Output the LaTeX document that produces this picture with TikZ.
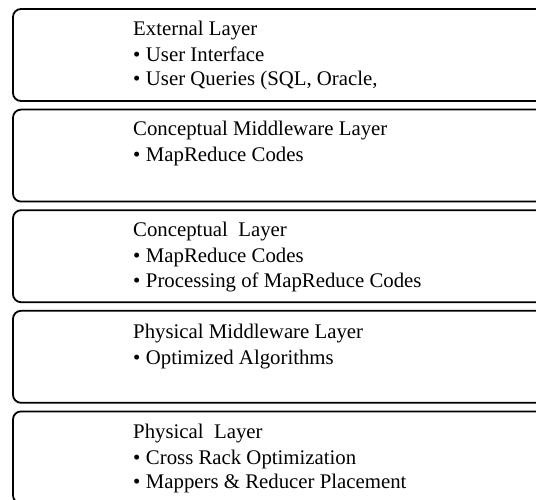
\documentclass[tikz,border=0pt]{standalone}
\usepackage{fontspec}
\setmainfont{Liberation Serif}
\usetikzlibrary{positioning}

\newcommand{\layeritem}{\textbullet\hspace{5.5pt}}

\tikzset{
	layerbox/.style={draw, line width=1.8pt, rounded corners=8pt, minimum width=560pt, minimum height=92pt, inner sep=0pt, outer sep=0pt},
	layertext/.style={align=left, inner sep=0pt, font=\fontsize{20.8}{24.5}\selectfont},
}

\begin{document}
\begin{tikzpicture}[x=1pt, y=-1pt]
			%%%%% START %%%%%
			
			\useasboundingbox (0, 0) rectangle (536, 500);
			\clip (0, 0) rectangle (536, 500);
			
			% the five layers, top to bottom
			\node[layerbox, anchor=north west] (external) at (13, 9) {};
			\node[layerbox, below=8.6pt of external] (cmiddle) {};
			\node[layerbox, below=8.6pt of cmiddle] (conceptual) {};
			\node[layerbox, below=8.6pt of conceptual] (pmiddle) {};
			\node[layerbox, below=8.6pt of pmiddle] (physical) {};
			
			% texts, top left of each layer
			\node[layertext, below right=11.5pt and 120pt of external.north west] (external-t)
				{External Layer\\[1.5pt]\layeritem User Interface\\\layeritem User Queries (SQL, Oracle,};
			\node[layertext, below right=11.5pt and 120pt of cmiddle.north west] (cmiddle-t)
				{Conceptual Middleware Layer\\[1.5pt]\layeritem MapReduce Codes};
			\node[layertext, below right=12pt and 120pt of conceptual.north west] (conceptual-t)
				{Conceptual\ \ Layer\\[1.5pt]\layeritem MapReduce Codes\\\layeritem Processing of MapReduce Codes};
			\node[layertext, below right=13pt and 120pt of pmiddle.north west] (pmiddle-t)
				{Physical Middleware Layer\\[1.5pt]\layeritem Optimized Algorithms};
			\node[layertext, below right=12pt and 120pt of physical.north west] (physical-t)
				{Physical\ \ Layer\\[1.5pt]\layeritem Cross Rack Optimization\\\layeritem Mappers \& Reducer Placement};
			
			%%%%% END %%%%%
\end{tikzpicture}
\end{document}
